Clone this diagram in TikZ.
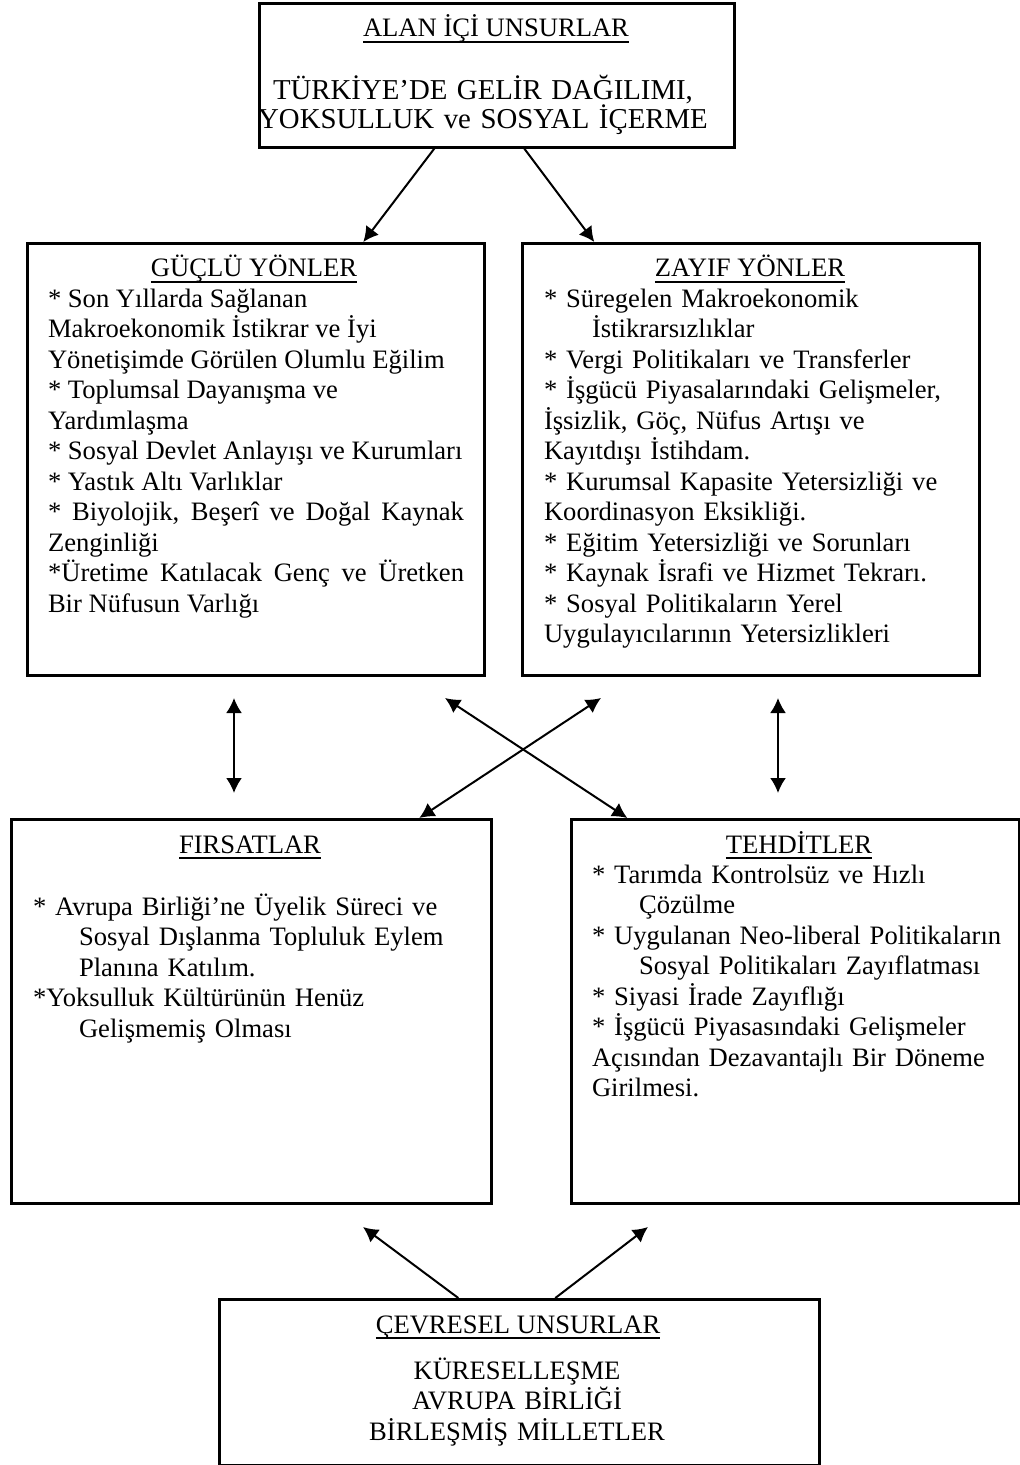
\documentclass[tikz,border=0pt]{standalone}
\usepackage{fontspec}
\setmainfont{Liberation Serif}
\usetikzlibrary{arrows.meta}
\tikzset{>={Latex[length=7.5pt,width=8pt]}}
\newcommand{\headline}[1]{\setbox0\hbox{#1}\rlap{\rule[-2.9pt]{\wd0}{0.8pt}}\box0}

\begin{document}
\begin{tikzpicture}[x=0.5pt,y=-0.5pt,line width=1pt]
\tikzstyle{frame} = [draw,rectangle,line width=1.3pt,inner sep=0pt,anchor=north west]
\tikzstyle{head} = [inner sep=0pt,anchor=base,font=\fontsize{13.3}{15.25}\selectfont]
\tikzstyle{txt} = [inner sep=0pt,anchor=base west,align=left,text width=215pt,font=\fontsize{13.3}{15.25}\selectfont]
\useasboundingbox (0,0) rectangle (1019,1465);
% boxes
\node[frame,minimum width=237.5pt,minimum height=72pt] (alan) at (258,2) {};
\node[frame,minimum width=228.5pt,minimum height=216pt] (guclu) at (26,242) {};
\node[frame,minimum width=228.5pt,minimum height=216pt] (zayif) at (521,242) {};
\node[frame,minimum width=240pt,minimum height=192pt] (firsat) at (10,818) {};
\node[frame,minimum width=224pt,minimum height=192pt] (tehdit) at (570,818) {};
\node[frame,minimum width=300pt,minimum height=83pt] (cevre) at (218,1298) {};
% texts
\node[head] (alanT) at (496,37) {\headline{ALAN İÇİ UNSURLAR}};
\node[inner sep=0pt,anchor=base,align=center,text width=240pt,font=\fontsize{14.4}{14.25}\selectfont] (alanB) at (483,100) {TÜRKİYE’DE GELİR DAĞILIMI,\\ YOKSULLUK ve SOSYAL İÇERME};
\node[head] (gucluT) at (254,277) {\headline{GÜÇLÜ YÖNLER}};
\node[txt,align=justify,text width=208pt] (gucluB) at (47,307) {* Son Yıllarda Sağlanan\\
Makroekonomik İstikrar ve İyi\\
Yönetişimde Görülen Olumlu Eğilim\\{}* Toplumsal Dayanışma ve\\
Yardımlaşma\\{}* Sosyal Devlet Anlayışı ve Kurumları\\{}* Yastık Altı Varlıklar\\{}* Biyolojik, Beşerî ve Doğal Kaynak\linebreak
Zenginliği\\{}*Üretime Katılacak Genç ve Üretken\linebreak
Bir Nüfusun Varlığı};
\node[head] (zayifT) at (750,277) {\headline{ZAYIF YÖNLER}};
\node[txt] (zayifB) at (543,307) {* Süregelen Makroekonomik\\
\hspace*{24pt}İstikrarsızlıklar\\{}* Vergi Politikaları ve Transferler\\{}* İşgücü Piyasalarındaki Gelişmeler,\\
İşsizlik, Göç, Nüfus Artışı ve\\
Kayıtdışı İstihdam.\\{}* Kurumsal Kapasite Yetersizliği ve\\
Koordinasyon Eksikliği.\\{}* Eğitim Yetersizliği ve Sorunları\\{}* Kaynak İsrafi ve Hizmet Tekrarı.\\{}* Sosyal Politikaların Yerel\\
Uygulayıcılarının Yetersizlikleri};
\node[head] (firsatT) at (250,853) {\headline{FIRSATLAR}};
\node[txt] (firsatB) at (32,915) {* Avrupa Birliği’ne Üyelik Süreci ve\\
\hspace*{23pt}Sosyal Dışlanma Topluluk Eylem\\
\hspace*{23pt}Planına Katılım.\\{}*Yoksulluk Kültürünün Henüz\\
\hspace*{23pt}Gelişmemiş Olması};
\node[head] (tehditT) at (799,853) {\headline{TEHDİTLER}};
\node[txt,text width=212pt] (tehditB) at (591,883) {* Tarımda Kontrolsüz ve Hızlı\\
\hspace*{23.5pt}Çözülme\\{}* Uygulanan Neo-liberal Politikaların\\
\hspace*{23.5pt}Sosyal Politikaları Zayıflatması\\{}* Siyasi İrade Zayıflığı\\{}* İşgücü Piyasasındaki Gelişmeler\\
Açısından Dezavantajlı Bir Döneme\\
Girilmesi.};
\node[head] (cevreT) at (518,1333) {\headline{ÇEVRESEL UNSURLAR}};
\node[inner sep=0pt,anchor=base,align=center,text width=290pt,font=\fontsize{13.3}{15.25}\selectfont] (cevreB) at (517,1379) {KÜRESELLEŞME\\ AVRUPA BİRLİĞİ\\ BİRLEŞMİŞ MİLLETLER};
% free ends
\coordinate (gv1) at (234,698);
\coordinate (gv2) at (234,793);
\coordinate (zv1) at (778,698);
\coordinate (zv2) at (778,793);
\coordinate (xl) at (445,698);
\coordinate (xr) at (601,698);
\coordinate (fb) at (363,1227);
\coordinate (tb) at (648,1227);
% arrows
\draw[->] ([xshift=-31.25pt]alan.south) -- ([xshift=53.75pt]guclu.north);
\draw[->] ([xshift=13.75pt]alan.south) -- ([xshift=-78.25pt]zayif.north);
\draw[<->] (gv1) -- (gv2);
\draw[<->] (zv1) -- (zv2);
\draw[<->] (xl) -- ([xshift=-84pt]tehdit.north);
\draw[<->] (xr) -- ([xshift=84pt]firsat.north);
\draw[->] ([xshift=-30.5pt]cevre.north) -- (fb);
\draw[->] ([xshift=18pt]cevre.north) -- (tb);
\end{tikzpicture}
\end{document}
